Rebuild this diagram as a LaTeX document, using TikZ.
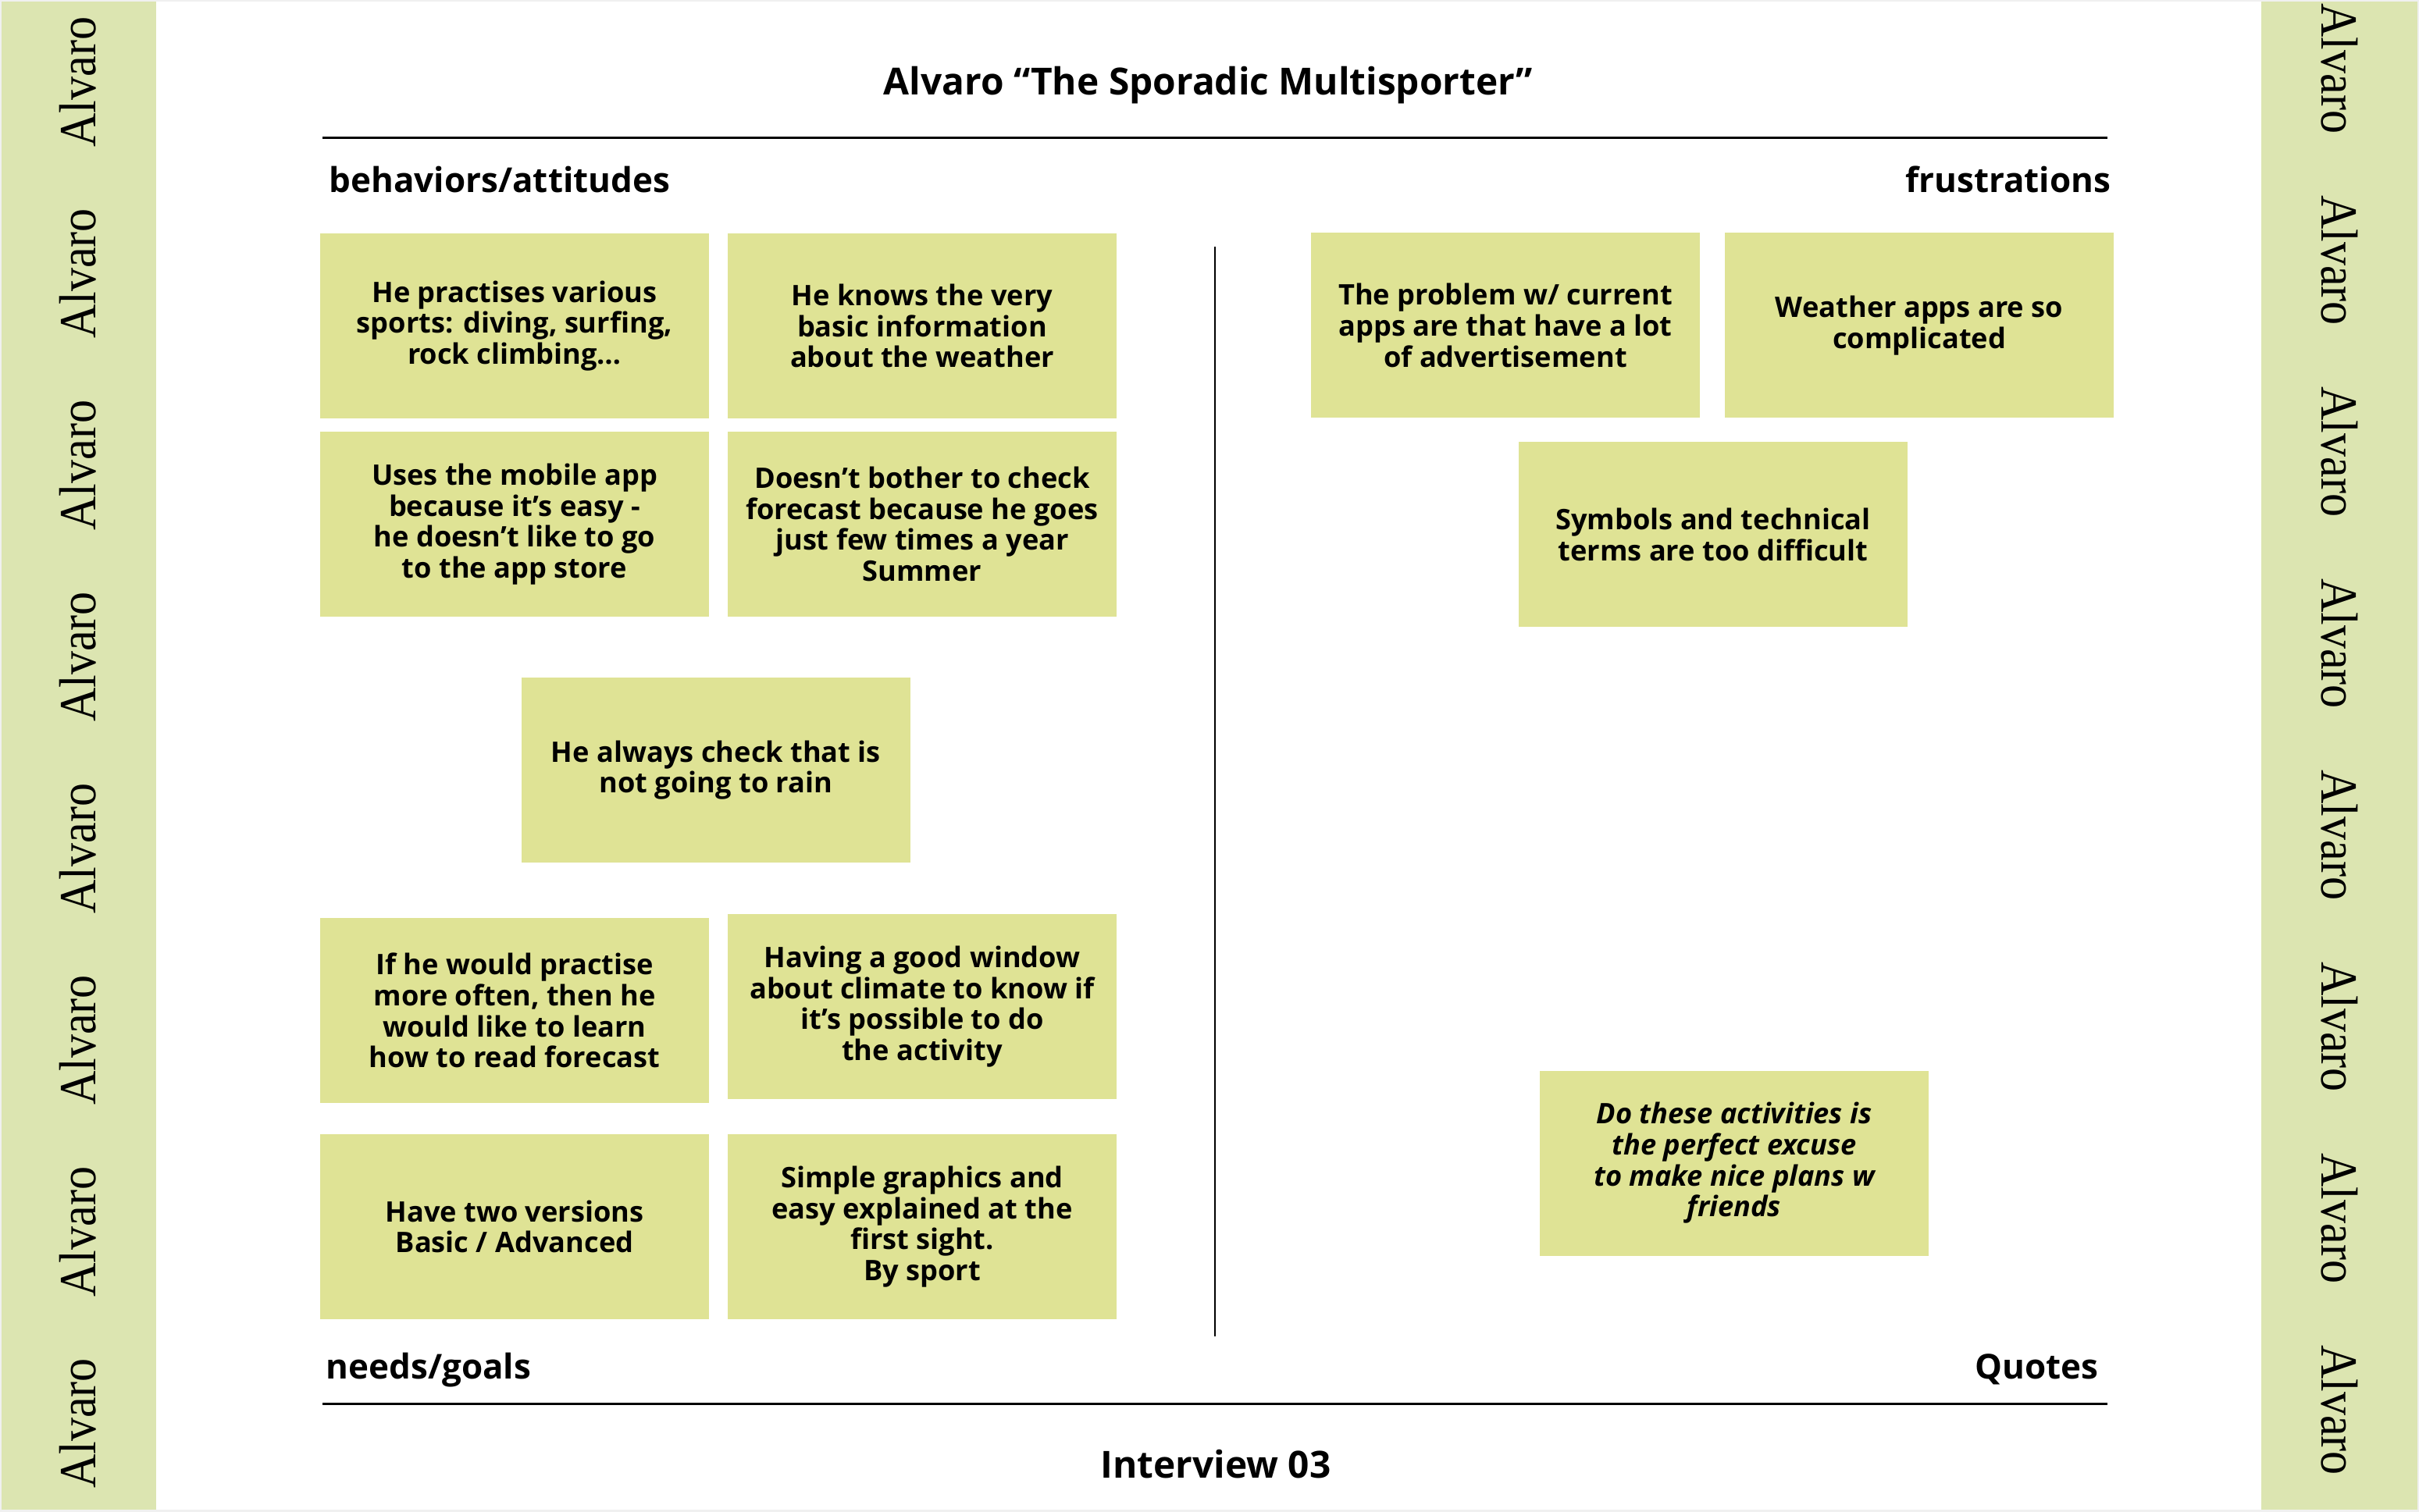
\documentclass[tikz,border=0pt]{standalone}
\usepackage{fontspec}
\setmainfont{Open Sans}
\newfontfamily\bandfont[FakeStretch=0.9]{Liberation Serif}
\usetikzlibrary{positioning}
\definecolor{bandgreen}{RGB}{220,229,177}
\definecolor{notegreen}{RGB}{223,227,149}
\tikzset{
  note/.style={fill=notegreen, minimum width=4.98cm, minimum height=2.37cm,
    inner sep=0pt, align=center, font=\fontsize{10.3}{11.3}\selectfont\bfseries},
  heading/.style={inner sep=0pt, font=\fontsize{12.5}{14}\selectfont\bfseries},
  bigtitle/.style={inner sep=0pt, font=\fontsize{13.6}{16}\selectfont\bfseries},
  sideword/.style={inner sep=0pt, font=\bandfont\fontsize{19}{19}\selectfont},
  rule/.style={line width=0.85pt}
}

\begin{document}
\begin{tikzpicture}
    \useasboundingbox (0,0) rectangle (30.98,19.36);
    \fill[bandgreen] (0,0) rectangle (2,19.36);
    \fill[bandgreen] (28.96,0) rectangle (30.98,19.36);
    \foreach \k in {0,...,7}{
      \node[sideword, rotate=90] (left\k) at (1.0, 18.31-2.455*\k) {Alvaro};
      \node[sideword, rotate=-90] (right\k) at (29.965, 18.48-2.455*\k) {Alvaro};
    }

    \node[bigtitle, anchor=base] (title) at (15.475, 18.14) {Alvaro “The Sporadic Multisporter”};
    \draw[rule] (4.13, 17.59) -- (26.99, 17.59);
    \node[heading, anchor=base west] (behav) at (4.21, 16.89) {behaviors/attitudes};
    \node[heading, anchor=base east] (frust) at (27.04, 16.89) {frustrations};
    \draw[line width=0.6pt] (15.56, 16.20) -- (15.56, 2.24);
    \node[heading, anchor=base west] (needs) at (4.17, 1.70) {needs/goals};
    \node[heading, anchor=base east] (quotes) at (26.88, 1.70) {Quotes};
    \draw[rule] (4.13, 1.38) -- (26.99, 1.38);
    \node[bigtitle, anchor=base] (interview) at (15.57, 0.43) {Interview 03};

    \node[note] (b1) at (6.59, 15.185) {He practises various\\sports: diving, surfing,\\rock climbing…};
    \node[note] (b2) at (11.81, 15.185) {He knows the very\\basic information\\about the weather};
    \node[note] (b3) at (6.59, 12.645) {Uses the mobile app\\because it’s easy -\\he doesn’t like to go\\to the app store};
    \node[note] (b4) at (11.81, 12.645) {Doesn’t bother to check\\forecast because he goes\\just few times a year\\Summer};
    \node[note] (b5) at (9.17, 9.495) {He always check that is\\not going to rain};
    \node[note] (b6) at (6.59, 6.415) {If he would practise\\more often, then he\\would like to learn\\how to read forecast};
    \node[note] (b7) at (11.81, 6.465) {Having a good window\\about climate to know if\\it’s possible to do\\the activity};
    \node[note] (b8) at (6.59, 3.645) {Have two versions\\Basic / Advanced};
    \node[note] (b9) at (11.81, 3.645) {Simple graphics and\\easy explained at the\\first sight.\\By sport};

    \node[note] (f1) at (19.28, 15.19) {The problem w/ current\\apps are that have a lot\\of advertisement};
    \node[note] (f2) at (24.58, 15.19) {Weather apps are so\\complicated};
    \node[note] (f3) at (21.94, 12.51) {Symbols and technical\\terms are too difficult};
    \node[note, font=\fontsize{10.3}{11.3}\selectfont\bfseries\itshape] (q1) at (22.21, 4.46) {Do these activities is\\the perfect excuse\\to make nice plans w\\friends};

    \draw[gray!12, line width=1.2pt] (0,0) rectangle (30.98,19.36);
\end{tikzpicture}
\end{document}
